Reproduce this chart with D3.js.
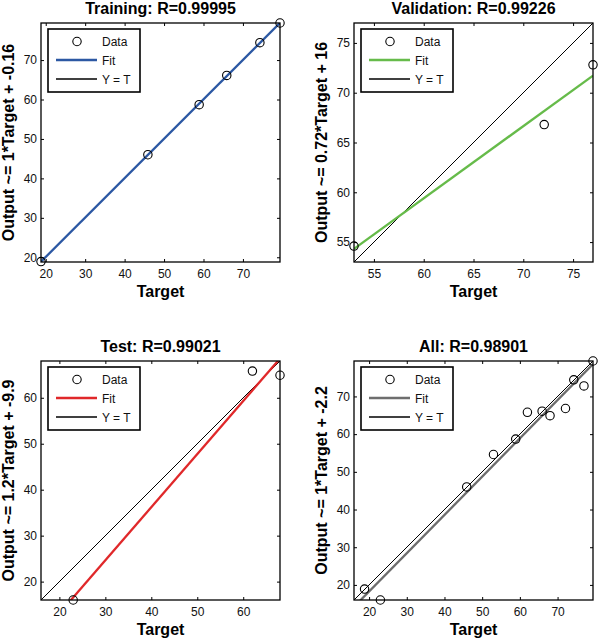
<!DOCTYPE html>
<html lang="en">
<head>
<meta charset="UTF-8">
<title>Regression plots</title>
<style>
  body { margin: 0; background: #fff; }
  svg { display: block; font-family: "Liberation Sans", Arial, Helvetica, sans-serif; }
</style>
</head>
<body>
<div id="chart"></div>
<script src="https://d3js.org/d3.v7.min.js"></script>
<script>
// data
var trainTarget = [18.8, 45.9, 58.9, 65.9, 74.3, 79.4];
var trainOutput = [18.9, 46.0, 58.7, 66.1, 74.4, 79.4];
var valTarget = [53.0, 72.1, 77.0];
var valOutput = [54.6, 66.8, 72.8];
var testTarget = [23.0, 62.0, 68.0];
var testOutput = [16.0, 65.8, 64.9];
var allTarget = trainTarget.concat(valTarget, testTarget);
var allOutput = trainOutput.concat(valOutput, testOutput);

var titles = ["Training: R=0.99995", "Validation: R=0.99226", "Test: R=0.99021", "All: R=0.98901"];
var yLabels = ["Output ~= 1*Target + -0.16", "Output ~= 0.72*Target + 16",
               "Output ~= 1.2*Target + -9.9", "Output ~= 1*Target + -2.2"];
var fitColors = ["#2c58a3", "#66bb4a", "#e0282a", "#6e6e6e"];
var legendNames = ["Data", "Fit", "Y = T"];

var panels = [
  { x: 41,  y: 23,  t: trainTarget, o: trainOutput },
  { x: 354, y: 23,  t: valTarget,   o: valOutput },
  { x: 41,  y: 361, t: testTarget,  o: testOutput },
  { x: 354, y: 361, t: allTarget,   o: allOutput }
];
var size = 239;

var svg = d3.select("#chart").append("svg")
    .attr("width", 599)
    .attr("height", 640);

svg.append("rect").attr("width", 599).attr("height", 640).attr("fill", "#fff");

// least squares line through a panel's points
function linfit(t, o) {
  var mt = d3.mean(t), mo = d3.mean(o);
  var sxy = d3.sum(t, function(d, i) { return (d - mt) * (o[i] - mo); });
  var sxx = d3.sum(t, function(d) { return (d - mt) * (d - mt); });
  var m = sxy / sxx;
  return { m: m, b: mo - m * mt };
}

panels.forEach(function(p, k) {
  var lo = Math.min(d3.min(p.t), d3.min(p.o));
  var hi = Math.max(d3.max(p.t), d3.max(p.o));
  var x = d3.scaleLinear().domain([lo, hi]).range([0, size]);
  var y = d3.scaleLinear().domain([lo, hi]).range([size, 0]);

  var g = svg.append("g").attr("transform", "translate(" + p.x + "," + p.y + ")");

  g.append("clipPath").attr("id", "clip" + k)
    .append("rect").attr("width", size).attr("height", size);

  // ticks, inward on all four sides
  var nt = k == 1 ? 5 : 6;
  var axes = [
    [d3.axisBottom(x).ticks(nt).tickSizeInner(-3).tickSizeOuter(0).tickPadding(7.5), "translate(0," + size + ")"],
    [d3.axisLeft(y).ticks(nt).tickSizeInner(-3).tickSizeOuter(0).tickPadding(4), null],
    [d3.axisTop(x).ticks(nt).tickSizeInner(-3).tickSizeOuter(0).tickFormat(""), null],
    [d3.axisRight(y).ticks(nt).tickSizeInner(-3).tickSizeOuter(0).tickFormat(""), "translate(" + size + ",0)"]
  ];
  axes.forEach(function(a) {
    var ag = g.append("g").call(a[0]);
    if (a[1]) ag.attr("transform", a[1]);
    ag.select(".domain").remove();
    ag.selectAll("line").attr("stroke", "#000").attr("stroke-width", 1);
    ag.selectAll("text").attr("fill", "#111").style("font-size", "12px")
      .style("font-family", "'Liberation Sans', Arial, sans-serif");
  });

  var plot = g.append("g").attr("clip-path", "url(#clip" + k + ")");
  var f = linfit(p.t, p.o);
  var dom = x.domain();

  // Y = T
  plot.append("line")
    .attr("x1", x(dom[0])).attr("y1", y(dom[0]))
    .attr("x2", x(dom[1])).attr("y2", y(dom[1]))
    .attr("stroke", "#000").attr("stroke-width", 1);

  // fit
  plot.append("line")
    .attr("x1", x(dom[0])).attr("y1", y(f.m * dom[0] + f.b))
    .attr("x2", x(dom[1])).attr("y2", y(f.m * dom[1] + f.b))
    .attr("stroke", fitColors[k]).attr("stroke-width", 2.3);

  // data markers (not clipped)
  g.selectAll("circle.pt")
    .data(p.t)
    .enter()
    .append("circle")
    .attr("class", "pt")
    .attr("cx", function(d) { return x(d); })
    .attr("cy", function(d, i) { return y(p.o[i]); })
    .attr("r", 4.2)
    .attr("fill", "none")
    .attr("stroke", "#000")
    .attr("stroke-width", 1.1);

  // axes box
  g.append("rect").attr("width", size).attr("height", size)
    .attr("fill", "none").attr("stroke", "#000").attr("stroke-width", 1.3);

  // legend
  var lg = g.append("g").attr("transform", "translate(7,6)");
  lg.append("rect").attr("width", 92).attr("height", 63)
    .attr("fill", "#fff").attr("stroke", "#000").attr("stroke-width", 1.6);
  var rows = [12.5, 31, 50];
  lg.append("circle").attr("cx", 29).attr("cy", rows[0]).attr("r", 4.2)
    .attr("fill", "none").attr("stroke", "#000").attr("stroke-width", 1.1);
  lg.append("line").attr("x1", 8).attr("x2", 49).attr("y1", rows[1]).attr("y2", rows[1])
    .attr("stroke", fitColors[k]).attr("stroke-width", 2.3);
  lg.append("line").attr("x1", 8).attr("x2", 49).attr("y1", rows[2]).attr("y2", rows[2])
    .attr("stroke", "#000").attr("stroke-width", 1.5);
  lg.selectAll("text.lt")
    .data(legendNames)
    .enter()
    .append("text")
    .attr("class", "lt")
    .attr("x", 54)
    .attr("y", function(d, i) { return rows[i] + 4.5; })
    .style("font-size", "12px")
    .attr("fill", "#111")
    .text(function(d) { return d; });

  // title and axis labels
  g.append("text")
    .attr("x", size / 2).attr("y", -9)
    .attr("text-anchor", "middle")
    .style("font-size", "16px").style("font-weight", "bold")
    .text(titles[k]);

  g.append("text")
    .attr("x", size / 2).attr("y", size + 35)
    .attr("text-anchor", "middle")
    .style("font-size", "16px").style("font-weight", "bold")
    .text("Target");

  g.append("text")
    .attr("transform", "translate(-27," + (size / 2) + ") rotate(-90)")
    .attr("text-anchor", "middle")
    .style("font-size", "16px").style("font-weight", "bold")
    .text(yLabels[k]);
});
</script>
</body>
</html>
